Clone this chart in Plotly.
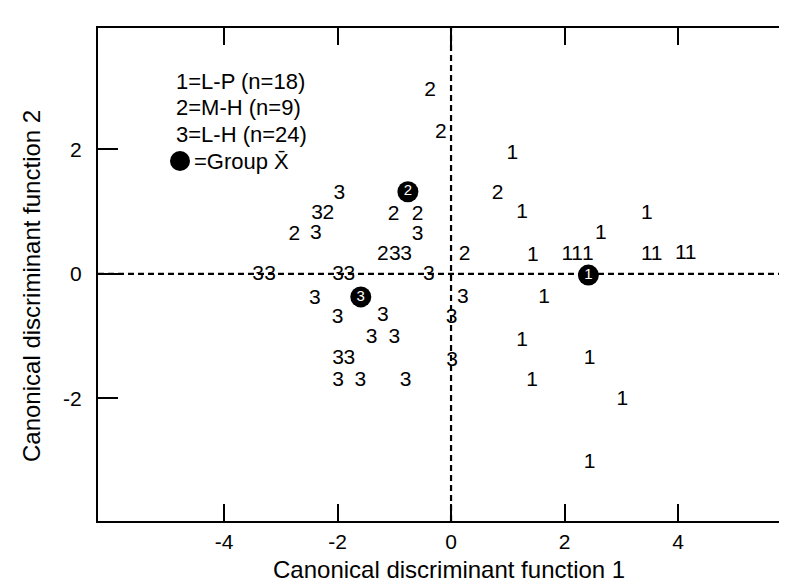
import plotly.graph_objects as go

# ---- data ----
g1_x = [1.08, 1.25, 3.45, 2.64, 1.44, 2.05, 2.22, 2.41, 3.45, 3.62, 4.05, 4.22,
        1.64, 1.25, 2.44, 1.43, 3.02, 2.44]
g1_y = [1.93, 0.98, 0.97, 0.65, 0.29, 0.30, 0.30, 0.30, 0.30, 0.30, 0.32, 0.32,
        -0.39, -1.07, -1.36, -1.72, -2.03, -3.04]

g2_x = [-0.37, -0.18, 0.82, -2.16, -1.01, -0.59, -2.76, -1.20, 0.24]
g2_y = [2.95, 2.27, 1.29, 0.96, 0.95, 0.95, 0.63, 0.30, 0.31]

g3_x = [-1.97, -2.36, -2.38, -0.59, -0.99, -0.79, -3.40, -3.19, -1.99, -1.79,
        -0.39, -2.40, 0.21, -2.00, -1.20, 0.01, -1.40, -1.00, -1.99, -1.79,
        0.02, -1.99, -1.60, -0.80]
g3_y = [1.28, 0.96, 0.64, 0.63, 0.30, 0.30, -0.02, -0.02, -0.02, -0.02,
        -0.02, -0.40, -0.38, -0.70, -0.67, -0.70, -1.03, -1.03, -1.36, -1.36,
        -1.40, -1.72, -1.71, -1.72]

mean_x = [2.42, -0.76, -1.59]
mean_y = [-0.02, 1.32, -0.37]
mean_labels = ["1", "2", "3"]

group_labels = ["1", "2", "3"]
legend_lines = ["1=L-P (n=18)", "2=M-H (n=9)", "3=L-H (n=24)"]
mean_legend = "=Group X\u0304"

x_ticks = [-4, -2, 0, 2, 4]
x_tick_text = ["-4", "-2", "0", "2", "4"]
y_ticks = [-2, 0, 2]
y_tick_text = ["-2", "0", "2"]
x_title = "Canonical discriminant function 1"
y_title = "Canonical discriminant function 2"

FONT = "Liberation Sans, Arial, Helvetica, sans-serif"
W, H = 787, 585
L, R, T, B = 90, 0, 20, 72
PW, PH = W - L - R, H - T - B

def px_x(p):
    return (p - L) / PW

def px_y(p):
    return 1 - (p - T) / PH

fig = go.Figure()

for xs, ys, lab in [(g1_x, g1_y, group_labels[0]),
                    (g2_x, g2_y, group_labels[1]),
                    (g3_x, g3_y, group_labels[2])]:
    fig.add_trace(go.Scatter(
        x=xs, y=ys, mode="text", text=[lab] * len(xs),
        textposition="middle center",
        textfont=dict(family=FONT, size=21, color="black"),
        hoverinfo="skip", showlegend=False))

fig.add_trace(go.Scatter(
    x=mean_x, y=mean_y, mode="markers+text", text=mean_labels,
    textposition="middle center",
    marker=dict(size=21, color="black", line=dict(width=0)),
    textfont=dict(family=FONT, size=15, color="white"),
    hoverinfo="skip", showlegend=False))

# empty trace so the right-hand tick axis is drawn
fig.add_trace(go.Scatter(x=[], y=[], yaxis="y2", showlegend=False, hoverinfo="skip"))

# dashed reference lines through the origin
fig.add_hline(y=0, line=dict(color="black", width=2.2, dash="6px,4px"), layer="below")
fig.add_vline(x=0, line=dict(color="black", width=2.2, dash="6px,4px"), layer="below")

annotations = []
legend_y = [73, 99, 126]
for txt, yy in zip(legend_lines, legend_y):
    annotations.append(dict(
        text=txt, x=px_x(166), y=px_y(yy), xref="paper", yref="paper",
        xanchor="left", yanchor="middle", showarrow=False,
        font=dict(family=FONT, size=22, color="black")))
annotations.append(dict(
    text=mean_legend, x=px_x(184), y=px_y(153), xref="paper", yref="paper",
    xanchor="left", yanchor="middle", showarrow=False,
    font=dict(family=FONT, size=22, color="black")))
annotations.append(dict(
    text=x_title, x=px_x(441), y=0, xref="paper", yref="paper",
    xanchor="center", yanchor="bottom", yshift=-64, showarrow=False,
    font=dict(family=FONT, size=24, color="black")))
annotations.append(dict(
    text=y_title, x=0, y=px_y(278), xref="paper", yref="paper",
    xanchor="center", yanchor="middle", xshift=-67, textangle=-90,
    showarrow=False, font=dict(family=FONT, size=24, color="black")))

shapes = [dict(
    type="circle", xref="paper", yref="paper",
    xsizemode="pixel", ysizemode="pixel",
    xanchor=px_x(172), yanchor=px_y(153),
    x0=-10, x1=10, y0=-10, y1=10,
    fillcolor="black", line=dict(width=0))]

fig.update_layout(
    width=W, height=H,
    margin=dict(l=L, r=R, t=T, b=B, pad=0),
    paper_bgcolor="white", plot_bgcolor="white",
    showlegend=False,
    annotations=annotations,
    shapes=list(fig.layout.shapes) + shapes,
    xaxis=dict(range=[-6.22, 6.06], tickvals=x_ticks, ticktext=x_tick_text,
               ticks="inside", ticklen=17, tickwidth=1.5, tickcolor="black",
               showline=True, linewidth=2, linecolor="black", mirror="ticks",
               showgrid=False, zeroline=False, ticklabelstandoff=1,
               tickfont=dict(family=FONT, size=21, color="black")),
    yaxis=dict(range=[-3.97, 3.95], tickvals=y_ticks, ticktext=y_tick_text,
               ticks="inside", ticklen=20, tickwidth=1.5, tickcolor="black",
               showline=True, linewidth=2, linecolor="black",
               showgrid=False, zeroline=False, ticklabelstandoff=10,
               tickfont=dict(family=FONT, size=21, color="black")),
    yaxis2=dict(range=[-3.97, 3.95], tickvals=y_ticks, ticks="inside",
                ticklen=10, tickwidth=1.5, tickcolor="black",
                overlaying="y", side="right", showline=False,
                showticklabels=False, showgrid=False, zeroline=False),
)

fig.write_html("out.html")
